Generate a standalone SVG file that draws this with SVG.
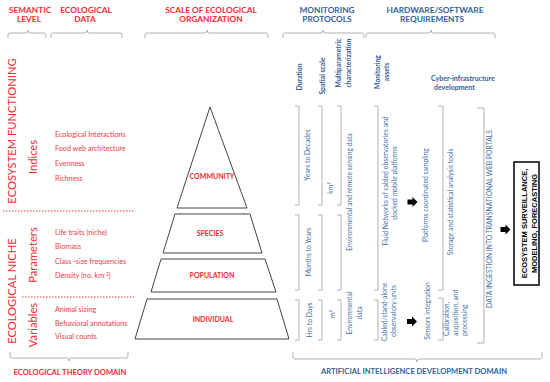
<svg xmlns="http://www.w3.org/2000/svg" width="550" height="382" viewBox="0 0 550 382">
<style>
text{font-family:Lato,"Open Sans","Liberation Sans",sans-serif}
.hr{fill:#ee2c31;font-weight:bold;font-size:8.3px;text-anchor:middle}
.hb{fill:#355e96;font-weight:bold;font-size:8.3px;text-anchor:middle}
.big{fill:#ee2c31;font-size:11.2px;text-anchor:middle}
.li{fill:#ee3a3f;font-size:7.2px}
.pl{fill:#ee2c31;font-weight:bold;font-size:7px;text-anchor:middle}
.sb{fill:#4570a8;font-size:6.8px;text-anchor:middle}
.sbs{fill:#4570a8;font-size:6.8px;text-anchor:start}
.sh{fill:#355e96;font-weight:bold;font-size:6.8px;text-anchor:middle}
.cy{fill:#355e96;font-weight:bold;font-size:7px}
.dom{font-weight:bold;font-size:7.6px;text-anchor:middle}
.br{fill:none;stroke:#a8a8a8;stroke-width:0.9}
.py{fill:#fff;stroke:#444;stroke-width:1}
.dot{stroke:#ee3a3f;stroke-width:1.2;stroke-dasharray:1.5 1.5;fill:none}
.ar{fill:#000}
.bx{font-family:"Liberation Sans",Arial,sans-serif;font-weight:bold;font-size:7.5px;fill:#000;text-anchor:middle}
</style>

<g id="headers">
<text class="hr" x="30" y="12.5">SEMANTIC</text><text class="hr" x="29" y="22">LEVEL</text>
<text class="hr" x="86" y="12.5">ECOLOGICAL</text><text class="hr" x="85" y="22">DATA</text>
<text class="hr" x="211" y="12.5">SCALE OF ECOLOGICAL</text><text class="hr" x="211" y="22">ORGANIZATION</text>
<text class="hb" x="327" y="12.5">MONITORING</text><text class="hb" x="327" y="22">PROTOCOLS</text>
<text class="hb" x="435" y="12.5">HARDWARE/SOFTWARE</text><text class="hb" x="432" y="22">REQUIREMENTS</text>
<path class="br" d="M8,38V35Q8,33 10,33H26Q28,33 28,30Q28,33 30,33H44Q46,33 46,35V38"/>
<path class="br" d="M51,38V35Q51,33 53,33H85Q87,33 87,30Q87,33 89,33H120Q122,33 122,35V38"/>
<path class="br" d="M145,38V35Q145,33 147,33H205Q207,33 207,30Q207,33 209,33H266Q268,33 268,35V38"/>
<path class="br" d="M283,38V35Q283,33 285,33H321Q323,33 323,30Q323,33 325,33H362Q364,33 364,35V38"/>
<path class="br" d="M366,38V35Q366,33 368,33H429Q431,33 431,30Q431,33 433,33H493Q495,33 495,35V38"/>
</g>

<g id="semantic-level">
<text class="big" transform="translate(16,131) rotate(-90)">ECOSYSTEM FUNCTIONING</text>
<text class="big" transform="translate(16,291) rotate(-90)">ECOLOGICAL NICHE</text>
<text class="big" transform="translate(37,157) rotate(-90)">Indices</text>
<text class="big" transform="translate(37,255) rotate(-90)">Parameters</text>
<text class="big" transform="translate(37,325) rotate(-90)">Variables</text>
<line class="dot" x1="3" y1="211" x2="135" y2="211"/>
<line class="dot" x1="22" y1="297" x2="134" y2="297"/>
</g>

<g id="ecological-data">
<text class="li" x="55" y="137">Ecological Interactions</text>
<text class="li" x="55" y="151">Food web architecture</text>
<text class="li" x="55" y="166">Evenness</text>
<text class="li" x="55" y="181">Richness</text>
<text class="li" x="55" y="235">Life  traits (niche)</text>
<text class="li" x="55" y="249">Biomass</text>
<text class="li" x="55" y="264">Class -size frequencies</text>
<text class="li" x="55" y="278">Density (no. km<tspan dy="-2.5" font-size="5">-2</tspan><tspan dy="2.5">)</tspan></text>
<text class="li" x="55" y="312">Animal sizing</text>
<text class="li" x="55" y="326">Behavioral annotations</text>
<text class="li" x="55" y="339">Visual counts</text>
</g>

<g id="pyramid">
<g id="community"><path class="py" d="M210,107L247,208L177,208Z"/><text class="pl" x="212" y="178.5">COMMUNITY</text></g>
<g id="species"><path class="py" d="M175,214L250,214L262,253L163,253Z"/><text class="pl" x="210" y="235.5">SPECIES</text></g>
<g id="population"><path class="py" d="M161,259L265,259L276,292L151,292Z"/><text class="pl" x="212" y="277.5">POPULATION</text></g>
<g id="individual"><path class="py" d="M147,299L277,299L289,339L135,339Z"/><text class="pl" x="213" y="321.5">INDIVIDUAL</text></g>
</g>

<g id="monitoring-protocols">
<text class="sh" transform="translate(302,77) rotate(-90)">Duration</text>
<text class="sh" transform="translate(325,76) rotate(-90)">Spatial scale</text>
<text class="sh" transform="translate(341,63) rotate(-90)">Multiparametric</text>
<text class="sh" transform="translate(351,63) rotate(-90)">characterization</text>
<path class="br" d="M295,106H299V205H295M295,215H299V290H295M295,300H299V340H295"/>
<path class="br" d="M318,106H322V205H318M318,215H322V290H318M318,300H322V340H318"/>
<path class="br" d="M337,106H341V205H337M337,215H341V290H337M337,300H341V340H337"/>
<text class="sb" transform="translate(310,155) rotate(-90)">Years to Decades</text>
<text class="sb" transform="translate(311,252) rotate(-90)">Months to Years</text>
<text class="sb" transform="translate(312,320) rotate(-90)">Hrs to Days</text>
<text class="sb" transform="translate(333,188) rotate(-90)">km²</text>
<text class="sb" transform="translate(335,314) rotate(-90)">m²</text>
<text class="sb" transform="translate(352,192) rotate(-90)">Environmental and remote sensing data</text>
<text class="sb" transform="translate(352,313) rotate(-90)">Environmental</text>
<text class="sb" transform="translate(362,313) rotate(-90)">data</text>
</g>

<g id="hardware-software">
<text class="sh" transform="translate(380,72) rotate(-90)">Monitoring</text>
<text class="sh" transform="translate(389,72) rotate(-90)">assets</text>
<text class="cy" x="431" y="80.5">Cyber-infrastructure</text>
<text class="cy" x="434" y="89.5">development</text>
<path class="br" d="M374,106H378V290H374M374,300H378V340H374"/>
<path class="br" d="M438,106H443V290H438M438,298H443V340H438"/>
<path class="br" d="M477,108H484V343H477"/>
<text class="sb" transform="translate(388,181) rotate(-90)">Fluid Networks of cabled observatories and</text>
<text class="sb" transform="translate(397,183) rotate(-90)">docked mobile platforms</text>
<text class="sb" transform="translate(428,195) rotate(-90)">Platforms coordinated sampling</text>
<text class="sb" transform="translate(453,202) rotate(-90)">Storage and statistical analysis tools</text>
<text class="sb" transform="translate(492,219) rotate(-90)">DATA INGESTION INTO TRANSNATIONAL WEB PORTALS</text>
<text class="sb" transform="translate(387,312) rotate(-90)">Cabled/stand-alone</text>
<text class="sb" transform="translate(396,311) rotate(-90)">observatory units</text>
<text class="sb" transform="translate(430,311) rotate(-90)">Sensors integration</text>
<text class="sbs" transform="translate(449,336) rotate(-90)">Calibration,</text>
<text class="sbs" transform="translate(458,336) rotate(-90)">acquisition, and</text>
<text class="sbs" transform="translate(467,336) rotate(-90)">processing</text>
</g>

<g id="connectors">
<path class="ar" d="M407.5,199.5H412.5V197L417.5,202L412.5,207V204.5H407.5Z"/>
<path class="ar" d="M407,319H412V316.5L417,321.5L412,326.5V324H407Z"/>
<path class="ar" d="M500.5,227H505.5V224.5L510.5,229.5L505.5,234.5V232H500.5Z"/>
</g>

<g id="output-box">
<rect x="514" y="162" width="25" height="123" fill="#fff" stroke="#000" stroke-width="1.5"/>
<text class="bx" transform="translate(526.5,223.5) rotate(-90)">ECOSYSTEM SURVEILLANCE,</text>
<text class="bx" transform="translate(536.5,223.5) rotate(-90)">MODELING, FORECASTING</text>
</g>

<g id="domains">
<path class="br" d="M10,352V356Q10,358 12,358H67Q69,358 69,361Q69,358 71,358H126Q128,358 128,356V352"/>
<path class="br" d="M293,352V357Q293,359 295,359H415Q417,359 417,362Q417,359 419,359H540Q542,359 542,357V352"/>
<text class="dom" x="70" y="375" fill="#ee2c31">ECOLOGICAL THEORY DOMAIN</text>
<text class="dom" x="414" y="374" fill="#355e96">ARTIFICIAL INTELLIGENCE DEVELOPMENT DOMAIN</text>
</g>
</svg>
